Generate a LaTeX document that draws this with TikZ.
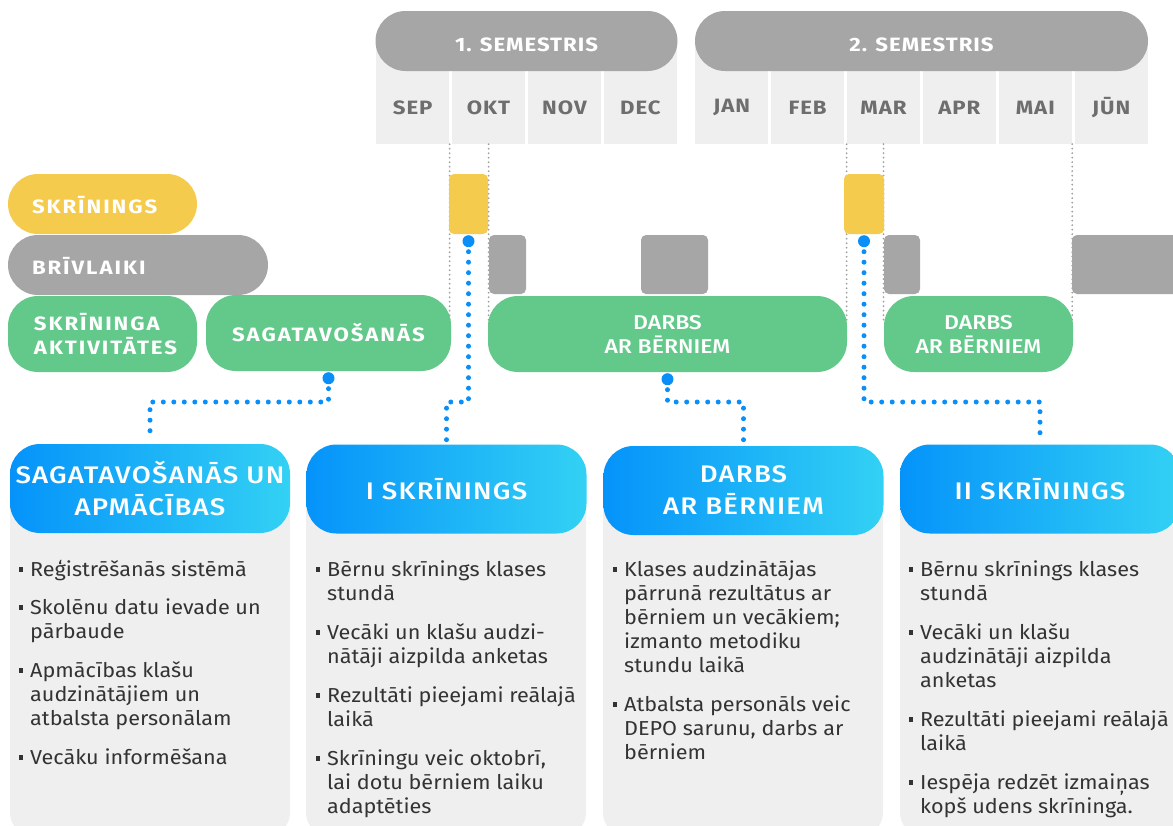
\documentclass[tikz,border=0pt]{standalone}
\usepackage{fontspec}
\setmainfont{Fira Sans}[FakeStretch=1.07]
\newfontfamily\medfont{Fira Sans Medium}[FakeStretch=1.15,LetterSpace=5]
\newfontfamily\medgreen{Fira Sans Medium}[FakeStretch=1.15]
\newfontfamily\capfont{Fira Sans Bold}[FakeStretch=1.15,LetterSpace=10]
\newfontfamily\monfont{Fira Sans Bold}[FakeStretch=1.15,LetterSpace=5]
\usetikzlibrary{calc}
\definecolor{semgrey}{HTML}{A6A6A6}
\definecolor{cellgrey}{HTML}{EFEFEF}
\definecolor{monthtxt}{HTML}{6E6E6E}
\definecolor{yell}{HTML}{F5CB4D}
\definecolor{grn}{HTML}{63C98B}
\definecolor{blueA}{HTML}{0593FA}
\definecolor{blueB}{HTML}{33D1F4}
\definecolor{dotblue}{HTML}{0A8EF7}
\definecolor{bodytxt}{HTML}{333333}
\definecolor{guidegrey}{HTML}{A0A0A0}
\newcommand{\bul}{\llap{\raisebox{5pt}{\rule{4.5pt}{4.5pt}}\hspace{7pt}}}
\begin{document}
\begin{tikzpicture}[x=1pt,y=-1pt,
  cellbox/.style={fill=cellgrey,draw=none,minimum width=73.4pt,minimum height=104pt,inner sep=0pt},
  monthlbl/.style={text=monthtxt,font=\monfont\fontsize{19.3}{24}\selectfont,inner sep=0pt},
  sempill/.style={fill=semgrey,rounded corners=30pt,minimum height=60pt,inner sep=0pt,text=white,font=\monfont\fontsize{19.3}{24}\selectfont,text height=20.3pt,text depth=0pt},
  guide/.style={draw=guidegrey,line width=2pt,line cap=round,dash pattern=on 0pt off 4.5pt},
  leftpill/.style={rounded corners=30pt,minimum height=60pt,inner xsep=24pt,inner ysep=0pt,align=left,text=white,font=\capfont\fontsize{19.3}{24}\selectfont,text depth=0pt},
  greenbox/.style={fill=grn,rounded corners=30pt,minimum height=76pt,inner sep=0pt,align=center,text=white,font=\capfont\fontsize{19.3}{24}\selectfont},
  greenmed/.style={greenbox,font=\medgreen\fontsize{20}{24}\selectfont},
  ybox/.style={fill=yell,rounded corners=5pt,minimum height=60pt,inner sep=0pt},
  gbox/.style={fill=semgrey,rounded corners=5pt,minimum height=59pt,inner sep=0pt},
  bigdot/.style={circle,fill=dotblue,minimum size=12pt,inner sep=0pt},
  blueline/.style={draw=dotblue,line width=5pt,line cap=round,dash pattern=on 0pt off 10.5pt},
  cardhead/.style={rounded corners=30pt,minimum width=280pt,minimum height=89pt,inner sep=0pt,left color=blueA,right color=blueB,align=center,text=white,font=\medfont\fontsize{24}{32}\selectfont},
  cardbody/.style={fill=cellgrey,rounded corners=22pt},
  item/.style={anchor=north west,align=left,inner sep=0pt,text=bodytxt,font=\fontsize{20.2}{24}\selectfont}
]
\useasboundingbox (0,0) rectangle (1173,825);

% month cells
\foreach \i/\x/\lab in {1/412.7/SEP,2/488.6/OKT,3/564.5/NOV,4/640.4/DEC}{
  \node[cellbox] (m\i) at (\x,92) {};
  \node[monthlbl] (ml\i) at (\x,107.5) {\lab};
}
\foreach \i/\x/\lab in {5/731.7/JAN,6/807.6/FEB,7/883.5/MAR,8/959.4/APR,9/1035.3/MAI,10/1111.2/JŪN}{
  \node[cellbox] (m\i) at (\x,92) {};
  \node[monthlbl] (ml\i) at (\x,107.5) {\lab};
}
\node[sempill,minimum width=302pt] (s1) at (526.5,41) {1. SEMESTRIS};
\node[sempill,minimum width=453pt] (s2) at (921.5,41) {2. SEMESTRIS};

% guide lines
\draw[guide] (m1.south east) -- (m1.south east |- 0,322);
\draw[guide] (m2.south) -- (m2.south |- 0,322);
\draw[guide] (m7.south west) -- (m7.south west |- 0,322);
\draw[guide] (m7.south) -- (m7.south |- 0,322);
\draw[guide] (m9.south east) -- (m9.south east |- 0,322);

% left row labels
\node[leftpill,fill=yell,minimum width=189pt,text width=141pt,text height=19.3pt] (lsk) at (102.5,204) {SKRĪNINGS};
\node[leftpill,fill=semgrey,minimum width=260pt,text width=212pt,text height=18.3pt] (lbr) at (138,265) {BRĪVLAIKI};
\node[greenbox,inner xsep=26pt,align=left,minimum width=189pt,text width=137pt] (lak) at (102.5,334) {SKRĪNINGA\\AKTIVITĀTES};
\node[greenbox,minimum width=245pt] (sag) at (328.5,333) {SAGATAVOŠANĀS};

% timeline bars
\node[ybox,minimum width=39pt] (y1) at (468.5,204) {};
\node[ybox,minimum width=40pt] (y2) at (864,204) {};
\node[gbox,minimum width=37pt] (g1) at (507.5,264.5) {};
\node[gbox,minimum width=67pt] (g2) at (674.5,264.5) {};
\node[gbox,minimum width=36pt] (g3) at (902,264.5) {};
\node[gbox,minimum width=113pt] (g4) at (1128.5,264.5) {};
\node[greenmed,minimum width=359pt] (d1) at (667.5,334) {DARBS\\AR BĒRNIEM};
\node[greenmed,minimum width=189pt] (d2) at (978.5,334) {DARBS\\AR BĒRNIEM};

% card bodies
\foreach \i/\x in {1/10,2/306,3/603,4/900}{
  \path[cardbody] (\x,480) rectangle ++(280,355);
}
% card headers
\node[cardhead] (h1) at (150,488.5) {SAGATAVOŠANĀS UN\\APMĀCĪBAS};
\node[cardhead] (h2) at (446.5,489) {I SKRĪNINGS};
\node[cardhead] (h3) at (743.5,490.5) {DARBS\\AR BĒRNIEM};
\node[cardhead] (h4) at (1040,489) {II SKRĪNINGS};

% connectors
\coordinate (hl) at (0,402);
\node[bigdot] (b1) at ($(sag.south)+(0,7)$) {};
\node[bigdot] (b2) at ($(y1.south)+(0,7)$) {};
\node[bigdot] (b3) at ($(d1.south)+(0,7)$) {};
\node[bigdot] (b4) at ($(y2.south)+(0,7)$) {};
\draw[blueline] (b1.center) -- (b1 |- hl) -| ($(h1.north)+(0,-3)$);
\draw[blueline] (b2.center) -- (b2 |- hl) -| ($(h2.north)+(0,-3)$);
\draw[blueline] (b3.center) -- (b3 |- hl) -| ($(h3.north)+(0,-3)$);
\draw[blueline] (b4.center) -- (b4 |- hl) -| ($(h4.north)+(0,-3)$);

% card items (y = first baseline - 16.8)
\node[item] (a1) at (30,559.7) {\strut\bul Reģistrēšanās sistēmā};
\node[item] (a2) at (30,597.7) {\strut\bul Skolēnu datu ievade un\\pārbaude};
\node[item] (a3) at (30,660.7) {\strut\bul Apmācības klašu\\audzinātājiem un\\atbalsta personālam};
\node[item] (a4) at (30,747.7) {\strut\bul Vecāku informēšana};

\node[item] (c1) at (327,559.7) {\strut\bul Bērnu skrīnings klases\\stundā};
\node[item] (c2) at (327,622.7) {\strut\bul Vecāki un klašu audzi-\\nātāji aizpilda anketas};
\node[item] (c3) at (327,685.7) {\strut\bul Rezultāti pieejami reālajā\\laikā};
\node[item] (c4) at (327,748.7) {\strut\bul Skrīningu veic oktobrī,\\lai dotu bērniem laiku\\adaptēties};

\node[item] (e1) at (624,559.7) {\strut\bul Klases audzinātājas\\pārrunā rezultātus ar\\bērniem un vecākiem;\\izmanto metodiku\\stundu laikā};
\node[item] (e2) at (624,694.7) {\strut\bul Atbalsta personāls veic\\DEPO sarunu, darbs ar\\bērniem};

\node[item] (f1) at (920,559.7) {\strut\bul Bērnu skrīnings klases\\stundā};
\node[item] (f2) at (920,622.7) {\strut\bul Vecāki un klašu\\audzinātāji aizpilda\\anketas};
\node[item] (f3) at (920,709.7) {\strut\bul Rezultāti pieejami reālajā\\laikā};
\node[item] (f4) at (920,772.7) {\strut\bul Iespēja redzēt izmaiņas\\kopš udens skrīninga.};
\end{tikzpicture}
\end{document}
